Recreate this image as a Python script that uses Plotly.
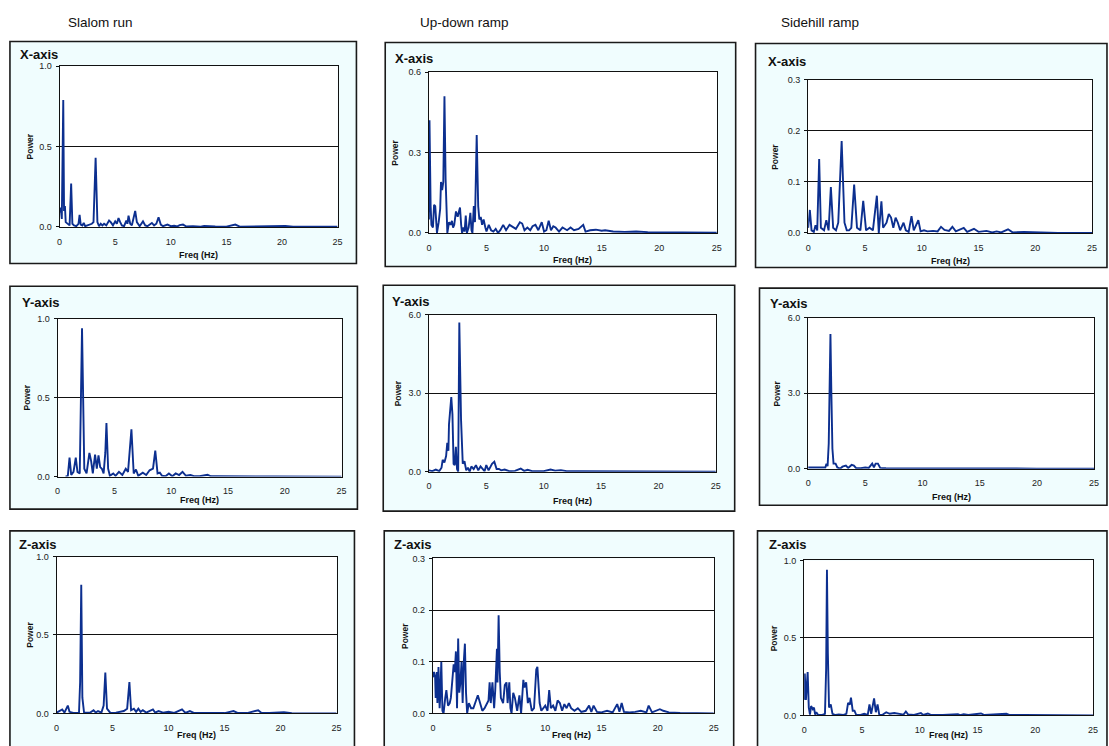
import plotly.graph_objects as go

# ---------------- data (freq Hz, power) ----------------
COLUMN_TITLES = ["Slalom run", "Up-down ramp", "Sidehill ramp"]
PANEL_TITLES = ["X-axis", "X-axis", "X-axis", "Y-axis", "Y-axis", "Y-axis", "Z-axis", "Z-axis", "Z-axis"]
X_TICKS = [0, 5, 10, 15, 20, 25]
Y_TICKS = [
    [0.0, 0.5, 1.0], [0.0, 0.3, 0.6], [0.0, 0.1, 0.2, 0.3],
    [0.0, 0.5, 1.0], [0.0, 3.0, 6.0], [0.0, 3.0, 6.0],
    [0.0, 0.5, 1.0], [0.0, 0.1, 0.2, 0.3], [0.0, 0.5, 1.0],
]

slalom_x = [(0.0, 0.09), (0.1, 0.12), (0.2, 0.05), (0.33, 0.79), (0.4, 0.1), (0.48, 0.13), (0.55, 0.03),
            (0.7, 0.02), (0.9, 0.01), (1.04, 0.27), (1.15, 0.02), (1.3, 0.01), (1.5, 0.005), (1.7, 0.02),
            (1.8, 0.075), (1.9, 0.015), (2.05, 0.01), (2.17, 0.025), (2.3, 0.005), (2.5, 0.01), (2.7, 0.015),
            (2.9, 0.02), (3.05, 0.03), (3.24, 0.43), (3.4, 0.03), (3.55, 0.005), (3.7, 0.02), (3.85, 0.01),
            (4.0, 0.02), (4.2, 0.01), (4.45, 0.04), (4.6, 0.03), (4.8, 0.01), (5.0, 0.035), (5.15, 0.02),
            (5.3, 0.055), (5.45, 0.03), (5.6, 0.01), (5.8, 0.005), (6.0, 0.04), (6.1, 0.02), (6.2, 0.07),
            (6.35, 0.02), (6.5, 0.01), (6.6, 0.04), (6.8, 0.1), (6.95, 0.03), (7.2, 0.005), (7.5, 0.035),
            (7.7, 0.01), (7.9, 0.005), (8.1, 0.015), (8.3, 0.025), (8.5, 0.01), (8.7, 0.02), (8.9, 0.06),
            (9.1, 0.015), (9.3, 0.005), (9.7, 0.015), (10.0, 0.005), (10.3, 0.008), (10.6, 0.004),
            (10.8, 0.012), (11.1, 0.015), (11.4, 0.003), (12.0, 0.005), (12.7, 0.002), (13.0, 0.006),
            (13.5, 0.003), (14.0, 0.003), (15.0, 0.002), (15.8, 0.015), (16.2, 0.002), (17.0, 0.002),
            (18.0, 0.005), (19.0, 0.002), (20.3, 0.006), (21.0, 0.001), (22.0, 0.002), (23.5, 0.001),
            (25.0, 0.001)]

updown_x = [(0.0, 0.05), (0.05, 0.42), (0.15, 0.1), (0.22, 0.03), (0.35, 0.02), (0.45, 0.105), (0.55, 0.1),
            (0.62, 0.03), (0.7, 0.0), (0.85, 0.04), (0.98, 0.09), (1.05, 0.19), (1.15, 0.16), (1.25, 0.19),
            (1.35, 0.51), (1.45, 0.2), (1.52, 0.05), (1.6, 0.0), (1.75, 0.04), (1.88, 0.03), (2.0, 0.045),
            (2.1, 0.02), (2.2, 0.03), (2.35, 0.08), (2.5, 0.06), (2.7, 0.095), (2.8, 0.03), (2.88, 0.0),
            (3.0, 0.02), (3.1, 0.005), (3.2, 0.065), (3.3, 0.0), (3.45, 0.02), (3.6, 0.075), (3.7, 0.01),
            (3.78, 0.0), (3.9, 0.1), (4.0, 0.04), (4.15, 0.365), (4.28, 0.1), (4.38, 0.05), (4.5, 0.06),
            (4.62, 0.03), (4.75, 0.05), (4.9, 0.02), (5.0, 0.005), (5.2, 0.03), (5.4, 0.01), (5.6, 0.005),
            (5.8, 0.015), (6.0, 0.0), (6.2, 0.01), (6.45, 0.03), (6.7, 0.01), (7.0, 0.03), (7.3, 0.02),
            (7.55, 0.015), (7.9, 0.04), (8.1, 0.035), (8.3, 0.01), (8.55, 0.02), (8.8, 0.01), (9.0, 0.025),
            (9.25, 0.03), (9.5, 0.01), (9.8, 0.04), (10.0, 0.005), (10.2, 0.01), (10.4, 0.045), (10.6, 0.01),
            (10.8, 0.025), (11.0, 0.02), (11.3, 0.005), (11.6, 0.02), (12.0, 0.01), (12.3, 0.02),
            (12.6, 0.01), (13.0, 0.015), (13.4, 0.03), (13.6, 0.005), (14.0, 0.01), (14.5, 0.012),
            (15.0, 0.008), (15.3, 0.01), (16.0, 0.005), (17.0, 0.004), (18.0, 0.005), (19.0, 0.003),
            (20.0, 0.003), (21.0, 0.002), (23.0, 0.001), (25.0, 0.001)]

sidehill_x = [(0.0, 0.01), (0.15, 0.045), (0.3, 0.005), (0.5, 0.002), (0.65, 0.015), (0.8, 0.005),
              (0.97, 0.145), (1.12, 0.01), (1.4, 0.005), (1.6, 0.025), (1.8, 0.005), (2.0, 0.09), (2.2, 0.01),
              (2.45, 0.005), (2.65, 0.02), (2.95, 0.18), (3.2, 0.02), (3.4, 0.005), (3.6, 0.005), (3.8, 0.01),
              (4.05, 0.095), (4.3, 0.01), (4.6, 0.005), (4.85, 0.063), (5.1, 0.005), (5.4, 0.01),
              (5.7, 0.005), (6.05, 0.073), (6.22, 0.0), (6.45, 0.062), (6.6, 0.01), (6.9, 0.02),
              (7.1, 0.037), (7.3, 0.03), (7.5, 0.01), (7.7, 0.03), (7.9, 0.02), (8.1, 0.005), (8.4, 0.02),
              (8.6, 0.005), (8.85, 0.002), (9.1, 0.033), (9.3, 0.005), (9.5, 0.015), (9.7, 0.025),
              (9.9, 0.003), (10.2, 0.005), (10.5, 0.003), (11.0, 0.004), (11.4, 0.003), (11.7, 0.012),
              (12.0, 0.006), (12.4, 0.004), (12.7, 0.012), (13.0, 0.003), (13.7, 0.01), (14.0, 0.002),
              (14.6, 0.008), (15.0, 0.002), (15.7, 0.004), (16.2, 0.001), (16.6, 0.003), (17.0, 0.001),
              (17.6, 0.007), (18.0, 0.001), (19.0, 0.002), (20.0, 0.001), (22.0, 0.0), (25.0, 0.0)]

slalom_y = [(0.7, 0.0), (0.9, 0.005), (1.05, 0.12), (1.2, 0.01), (1.4, 0.03), (1.6, 0.12), (1.75, 0.03),
            (1.95, 0.02), (2.15, 0.94), (2.35, 0.05), (2.55, 0.02), (2.8, 0.15), (2.95, 0.1), (3.1, 0.02),
            (3.3, 0.14), (3.45, 0.05), (3.6, 0.135), (3.75, 0.06), (3.9, 0.05), (4.05, 0.02), (4.2, 0.15),
            (4.3, 0.34), (4.45, 0.05), (4.6, 0.005), (4.9, 0.02), (5.1, 0.005), (5.4, 0.03), (5.7, 0.01),
            (6.0, 0.05), (6.2, 0.03), (6.5, 0.3), (6.7, 0.02), (6.9, 0.045), (7.1, 0.005), (7.5, 0.025),
            (7.8, 0.01), (8.1, 0.04), (8.4, 0.05), (8.6, 0.165), (8.8, 0.02), (9.0, 0.025), (9.2, 0.005),
            (9.5, 0.002), (9.8, 0.02), (10.1, 0.002), (10.4, 0.02), (10.7, 0.01), (11.0, 0.03),
            (11.3, 0.005), (11.7, 0.01), (12.0, 0.003), (12.5, 0.002), (13.2, 0.012), (13.5, 0.002),
            (14.0, 0.002), (15.0, 0.001), (17.0, 0.002), (19.0, 0.001), (25.0, 0.0)]

updown_y = [(0.0, 0.05), (0.3, 0.02), (0.6, 0.08), (0.9, 0.02), (1.1, 0.15), (1.2, 0.45), (1.35, 0.35),
            (1.5, 0.6), (1.6, 1.1), (1.7, 0.8), (1.75, 1.8), (1.85, 2.2), (1.95, 2.85), (2.05, 2.2),
            (2.15, 0.3), (2.25, 0.25), (2.35, 0.95), (2.45, 0.1), (2.55, 0.0), (2.65, 5.7), (2.8, 2.0),
            (2.95, 0.3), (3.1, 0.4), (3.25, 0.05), (3.4, 0.15), (3.55, 0.0), (3.7, 0.2), (3.9, 0.1),
            (4.1, 0.25), (4.3, 0.05), (4.5, 0.2), (4.7, 0.1), (4.85, 0.02), (5.0, 0.25), (5.2, 0.05),
            (5.5, 0.3), (5.7, 0.38), (5.9, 0.1), (6.1, 0.1), (6.3, 0.05), (6.6, 0.08), (7.0, 0.02),
            (7.5, 0.03), (8.0, 0.12), (8.3, 0.03), (8.6, 0.07), (9.0, 0.02), (9.5, 0.02), (10.0, 0.02),
            (10.6, 0.08), (11.0, 0.04), (11.5, 0.06), (12.0, 0.02), (13.0, 0.02), (14.0, 0.02),
            (15.0, 0.01), (17.0, 0.01), (20.0, 0.005), (25.0, 0.0)]

sidehill_y = [(0.0, 0.05), (0.5, 0.04), (1.0, 0.03), (1.5, 0.05), (1.6, 0.2), (1.7, 0.1), (1.8, 1.0),
              (1.88, 3.0), (1.95, 5.35), (2.03, 3.0), (2.12, 0.8), (2.22, 0.2), (2.4, 0.2), (2.55, 0.05),
              (2.8, 0.0), (3.0, 0.08), (3.3, 0.12), (3.5, 0.03), (3.8, 0.15), (4.0, 0.12), (4.2, 0.02),
              (4.6, 0.02), (5.0, 0.05), (5.3, 0.03), (5.6, 0.2), (5.75, 0.05), (5.9, 0.2), (6.1, 0.2),
              (6.3, 0.03), (6.8, 0.02), (7.5, 0.02), (8.5, 0.02), (9.0, 0.03), (10.0, 0.01), (12.0, 0.01),
              (15.0, 0.005), (20.0, 0.003), (25.0, 0.0)]

slalom_z = [(0.0, 0.005), (0.3, 0.02), (0.5, 0.025), (0.7, 0.005), (1.0, 0.05), (1.15, 0.01), (1.5, 0.003),
            (2.0, 0.005), (2.1, 0.2), (2.2, 0.82), (2.3, 0.1), (2.45, 0.005), (3.0, 0.005), (3.3, 0.02),
            (3.5, 0.005), (3.7, 0.015), (4.0, 0.005), (4.2, 0.05), (4.35, 0.26), (4.5, 0.03), (4.8, 0.003),
            (5.3, 0.005), (5.8, 0.01), (6.0, 0.015), (6.3, 0.03), (6.5, 0.2), (6.65, 0.02), (6.9, 0.03),
            (7.1, 0.01), (7.3, 0.03), (7.5, 0.01), (7.7, 0.02), (8.0, 0.005), (8.6, 0.025), (8.8, 0.005),
            (9.1, 0.015), (9.5, 0.005), (10.0, 0.01), (10.5, 0.003), (11.2, 0.025), (11.5, 0.003),
            (11.9, 0.015), (12.3, 0.002), (13.0, 0.003), (14.0, 0.002), (15.0, 0.002), (15.8, 0.015),
            (16.2, 0.002), (17.0, 0.002), (18.0, 0.02), (18.3, 0.002), (19.0, 0.002), (20.3, 0.008),
            (21.0, 0.001), (25.0, 0.0)]

updown_z = [(0.0, 0.07), (0.1, 0.08), (0.2, 0.07), (0.25, 0.03), (0.35, 0.08), (0.4, 0.02), (0.5, 0.09),
            (0.6, 0.01), (0.65, 0.03), (0.75, 0.1), (0.85, 0.005), (0.95, 0.0), (1.1, 0.03), (1.2, 0.045),
            (1.35, 0.015), (1.5, 0.02), (1.6, 0.03), (1.75, 0.07), (1.85, 0.095), (1.95, 0.08), (2.05, 0.12),
            (2.15, 0.01), (2.25, 0.145), (2.35, 0.04), (2.45, 0.06), (2.55, 0.1), (2.65, 0.02), (2.75, 0.1),
            (2.85, 0.135), (2.95, 0.04), (3.05, 0.0), (3.2, 0.02), (3.4, 0.01), (3.6, 0.01), (3.8, 0.025),
            (4.0, 0.035), (4.2, 0.02), (4.4, 0.005), (4.6, 0.01), (4.8, 0.02), (4.95, 0.025), (5.05, 0.06),
            (5.15, 0.02), (5.3, 0.06), (5.45, 0.01), (5.55, 0.045), (5.7, 0.125), (5.75, 0.06),
            (5.85, 0.19), (5.95, 0.08), (6.05, 0.03), (6.25, 0.02), (6.4, 0.055), (6.55, 0.06),
            (6.65, 0.02), (6.8, 0.06), (6.9, 0.01), (7.0, 0.0), (7.15, 0.04), (7.3, 0.03), (7.5, 0.005),
            (7.7, 0.035), (7.85, 0.0), (8.05, 0.065), (8.15, 0.05), (8.3, 0.06), (8.45, 0.02), (8.6, 0.03),
            (8.8, 0.005), (9.0, 0.01), (9.2, 0.085), (9.3, 0.09), (9.5, 0.02), (9.65, 0.005), (9.8, 0.01),
            (10.0, 0.015), (10.2, 0.005), (10.35, 0.045), (10.5, 0.01), (10.7, 0.015), (10.9, 0.005),
            (11.1, 0.025), (11.3, 0.02), (11.5, 0.005), (11.7, 0.018), (11.9, 0.01), (12.1, 0.02),
            (12.3, 0.01), (12.6, 0.005), (12.9, 0.01), (13.2, 0.003), (13.6, 0.005), (13.9, 0.015),
            (14.1, 0.003), (14.3, 0.015), (14.6, 0.003), (15.0, 0.002), (15.5, 0.005), (16.0, 0.002),
            (16.4, 0.018), (16.6, 0.003), (16.8, 0.02), (17.0, 0.003), (17.5, 0.002), (18.0, 0.003),
            (18.5, 0.005), (19.0, 0.002), (19.2, 0.015), (19.5, 0.002), (20.2, 0.008), (20.5, 0.005),
            (21.0, 0.002), (22.0, 0.001), (25.0, 0.0)]

sidehill_z = [(0.0, 0.1), (0.05, 0.27), (0.15, 0.1), (0.25, 0.27), (0.3, 0.28), (0.4, 0.05), (0.5, 0.005),
              (0.6, 0.06), (0.75, 0.04), (0.85, 0.05), (0.95, 0.005), (1.05, 0.02), (1.2, 0.003),
              (1.5, 0.002), (1.8, 0.01), (1.9, 0.3), (1.97, 0.94), (2.05, 0.4), (2.15, 0.05), (2.3, 0.07),
              (2.45, 0.01), (2.7, 0.002), (3.0, 0.005), (3.4, 0.003), (3.65, 0.01), (3.8, 0.08),
              (3.95, 0.07), (4.05, 0.115), (4.2, 0.03), (4.35, 0.03), (4.5, 0.003), (4.8, 0.002),
              (5.2, 0.01), (5.5, 0.003), (5.65, 0.07), (5.8, 0.01), (6.05, 0.11), (6.2, 0.02), (6.35, 0.07),
              (6.5, 0.003), (6.8, 0.005), (7.1, 0.02), (7.4, 0.01), (7.8, 0.015), (8.2, 0.01), (8.6, 0.005),
              (8.8, 0.025), (9.0, 0.005), (9.5, 0.003), (10.1, 0.015), (10.3, 0.003), (10.7, 0.012),
              (11.0, 0.002), (12.0, 0.002), (13.3, 0.008), (13.5, 0.002), (13.8, 0.008), (14.2, 0.002),
              (15.3, 0.012), (15.6, 0.002), (17.5, 0.01), (17.8, 0.002), (19.0, 0.002), (20.0, 0.001),
              (25.0, 0.0)]

SERIES = [slalom_x, updown_x, sidehill_x, slalom_y, updown_y, sidehill_y, slalom_z, updown_z, sidehill_z]

# ---------------- layout (pixel geometry of the page) ----------------
W, H = 1109, 746
# plot area: left, top, right, bottom
PLOT_PX = [(57, 62, 337, 225), (429, 68, 719, 231), (811, 76, 1097, 231),
           (55, 318, 341, 478), (429, 314, 718, 473), (811, 317, 1099, 470),
           (54, 559, 336, 718), (433, 561, 716, 718), (807, 563, 1098, 720)]
# panel boxes
BOX_PX = [(7, 37, 356, 262), (385, 38, 738, 265), (758, 39, 1112, 266),
          (7, 285, 357, 511), (383, 284, 737, 513), (762, 287, 1112, 507),
          (7, 533, 354, 760), (384, 533, 736, 760), (760, 533, 1112, 760)]
TITLE_PX = [(15, 50), (393, 54), (769, 57), (17, 302), (390, 301), (771, 303), (14, 547), (392, 547), (770, 547)]
POWER_X = [27, 395, 778, 24, 398, 780, 27, 405, 777]
FREQ_PX = [(197, 253), (574, 258), (954, 259), (198, 502), (574, 503), (955, 499), (195, 740), (573, 740), (952, 740)]
COL_TITLE_PX = [(63, 18), (418, 18), (782, 18)]


def px(x):
    return x / W


def py(y):
    return 1 - y / H


LINE_COLOR = "#0c2f8f"
FONT = "Liberation Sans, Arial, sans-serif"

fig = go.Figure()
layout = dict(
    width=W, height=H, margin=dict(l=0, r=0, t=0, b=0),
    paper_bgcolor="white", plot_bgcolor="white", showlegend=False,
    font=dict(family=FONT, color="#222"),
)
shapes = []
annotations = []

for i, data in enumerate(SERIES):
    n = i + 1
    xa = "x" if n == 1 else f"x{n}"
    ya = "y" if n == 1 else f"y{n}"
    freq = [d[0] for d in data]
    power = [d[1] for d in data]
    fig.add_trace(go.Scatter(x=freq, y=power, mode="lines", xaxis=xa, yaxis=ya,
                             line=dict(color=LINE_COLOR, width=1.9), hoverinfo="skip"))
    l, t, r, b = PLOT_PX[i]
    yt = Y_TICKS[i]
    layout["xaxis" if n == 1 else f"xaxis{n}"] = dict(
        domain=[px(l), px(r)], anchor=ya, range=[0, 25],
        tickvals=X_TICKS, ticktext=[str(v) for v in X_TICKS],
        showgrid=False, zeroline=False, showline=True, mirror=True,
        linecolor="#111", linewidth=1, ticks="", ticklabelstandoff=6,
        tickfont=dict(size=9, color="#222", family=FONT), fixedrange=True,
    )
    layout["yaxis" if n == 1 else f"yaxis{n}"] = dict(
        domain=[py(b), py(t)], anchor=xa, range=[0, yt[-1]],
        tickvals=yt, ticktext=[f"{v:.1f}" for v in yt],
        showgrid=True, gridcolor="#111", gridwidth=1, zeroline=False,
        showline=True, mirror=True, linecolor="#111", linewidth=1,
        ticks="outside", ticklen=3, tickcolor="#111", ticklabelstandoff=2,
        tickfont=dict(size=9, color="#222", family=FONT), fixedrange=True,
    )
    bl, bt, br, bb = BOX_PX[i]
    shapes.append(dict(type="rect", xref="paper", yref="paper", layer="below",
                       x0=px(bl), x1=px(br), y0=py(bb), y1=py(bt),
                       fillcolor="#f0fdfe", line=dict(color="#1a1a1a", width=1.6)))
    shapes.append(dict(type="rect", xref="paper", yref="paper", layer="below",
                       x0=px(l), x1=px(r), y0=py(b), y1=py(t),
                       fillcolor="white", line=dict(width=0)))
    tx, ty = TITLE_PX[i]
    annotations.append(dict(text=f"<b>{PANEL_TITLES[i]}</b>", xref="paper", yref="paper",
                            x=px(tx), y=py(ty), xanchor="left", yanchor="middle", showarrow=False,
                            font=dict(size=13, color="#111", family=FONT)))
    annotations.append(dict(text="<b>Power</b>", xref="paper", yref="paper", textangle=-90,
                            x=px(POWER_X[i]), y=py((t + b) / 2), xanchor="center", yanchor="middle",
                            showarrow=False, font=dict(size=8.5, color="#111", family=FONT)))
    fx, fy = FREQ_PX[i]
    annotations.append(dict(text="<b>Freq (Hz)</b>", xref="paper", yref="paper",
                            x=px(fx), y=py(fy), xanchor="center", yanchor="middle",
                            showarrow=False, font=dict(size=9, color="#111", family=FONT)))

for j, name in enumerate(COLUMN_TITLES):
    cx, cy = COL_TITLE_PX[j]
    annotations.append(dict(text=name, xref="paper", yref="paper", x=px(cx), y=py(cy),
                            xanchor="left", yanchor="middle", showarrow=False,
                            font=dict(size=13.5, color="#111", family=FONT)))

layout["shapes"] = shapes
layout["annotations"] = annotations
fig.update_layout(**layout)
fig.write_html("out.html", config={"displayModeBar": False},
               post_script="document.body.style.margin='0px';document.body.style.overflow='hidden';")
